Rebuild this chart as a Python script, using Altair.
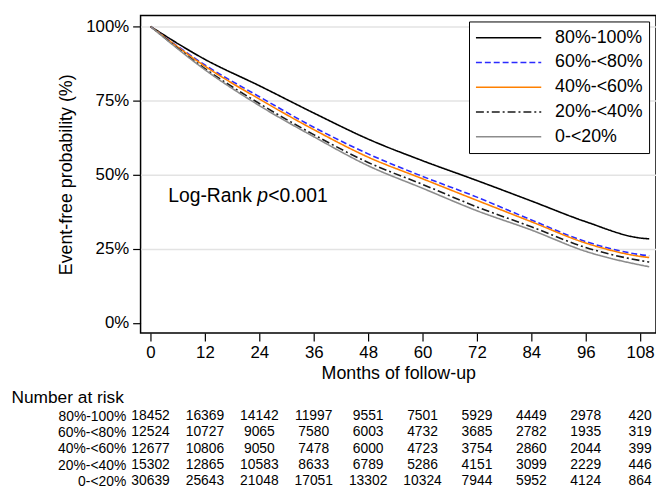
import altair as alt
import pandas as pd

# ---- data ----
groups = ["80%-100%", "60%-<80%", "40%-<60%", "20%-<40%", "0-<20%"]
colors = ["#000000", "#2b2bff", "#ff8000", "#1a1a1a", "#8c8c8c"]
dashes = [[1, 0], [6, 3], [1, 0], [8, 3, 2, 3], [1, 0]]

months = [0, 12, 24, 36, 48, 60, 72, 84, 96, 108, 110]
surv_80_100 = [100, 88.9, 80.0, 70.8, 62.0, 54.7, 48.0, 41.1, 34.1, 28.6, 28.3]
surv_60_80 = [100, 87.0, 76.3, 66.0, 57.0, 49.4, 42.4, 34.7, 27.4, 23.0, 22.6]
surv_40_60 = [100, 86.6, 75.5, 65.2, 55.9, 48.6, 41.3, 34.1, 26.9, 22.4, 22.0]
surv_20_40 = [100, 85.8, 74.0, 63.5, 54.1, 46.7, 39.1, 32.4, 25.4, 21.0, 20.5]
surv_0_20 = [100, 85.4, 73.3, 62.8, 53.0, 45.4, 37.8, 31.3, 24.1, 19.5, 18.9]

risk_months = [0, 12, 24, 36, 48, 60, 72, 84, 96, 108]
risk_80_100 = [18452, 16369, 14142, 11997, 9551, 7501, 5929, 4449, 2978, 420]
risk_60_80 = [12524, 10727, 9065, 7580, 6003, 4732, 3685, 2782, 1935, 319]
risk_40_60 = [12677, 10806, 9050, 7478, 6000, 4723, 3754, 2860, 2044, 399]
risk_20_40 = [15302, 12865, 10583, 8633, 6789, 5286, 4151, 3099, 2229, 446]
risk_0_20 = [30639, 25643, 21048, 17051, 13302, 10324, 7944, 5952, 4124, 864]

y_ticks = [0, 25, 50, 75, 100]
x_ticks = [0, 12, 24, 36, 48, 60, 72, 84, 96, 108]

FONT = "Liberation Sans"

surv_series = [surv_80_100, surv_60_80, surv_40_60, surv_20_40, surv_0_20]
risk_series = [risk_80_100, risk_60_80, risk_40_60, risk_20_40, risk_0_20]

curve_rows = []
for g, s in zip(groups, surv_series):
    for m, v in zip(months, s):
        curve_rows.append({"group": g, "month": m, "surv": v})
curves = pd.DataFrame(curve_rows)

risk_rows = []
for g, s in zip(groups, risk_series):
    for m, v in zip(risk_months, s):
        risk_rows.append({"group": g, "month": m, "n": str(v)})
risk = pd.DataFrame(risk_rows)

x_scale = alt.Scale(domain=[-2.2, 111.5], nice=False, zero=False)

lines = alt.Chart(curves).mark_line(strokeWidth=1.6, interpolate="monotone").encode(
    x=alt.X("month:Q", scale=x_scale,
            axis=alt.Axis(values=x_ticks, title="Months of follow-up", grid=False,
                          tickSize=8, tickColor="black", tickWidth=1.2,
                          labelFontSize=17, labelPadding=4, labelColor="black",
                          titleFontSize=18, titleFontWeight="normal", titlePadding=4,
                          titleColor="black", domain=False)),
    y=alt.Y("surv:Q", scale=alt.Scale(domain=[-3.5, 103.7], nice=False, zero=False),
            axis=alt.Axis(values=y_ticks, format=".0f", labelExpr="datum.value + '%'",
                          title="Event-free probability (%)",
                          grid=True, gridColor="#e3e3e3", gridWidth=1.5,
                          gridOpacity={"condition": {"test": "datum.value === 0", "value": 0}, "value": 1},
                          tickSize=8, tickColor="black", tickWidth=1.2,
                          labelFontSize=17, labelPadding=4, labelColor="black",
                          titleFontSize=18, titleFontWeight="normal", titlePadding=10,
                          titleColor="black", domain=False)),
    color=alt.Color("group:N", scale=alt.Scale(domain=groups, range=colors), sort=groups,
                    legend=alt.Legend(title=None, orient="none", legendX=332, legendY=6,
                                      padding=6, strokeColor="black", fillColor="white",
                                      symbolType="stroke", symbolSize=4356,
                                      symbolStrokeWidth=1.6, clipHeight=21, rowPadding=4,
                                      labelFontSize=18, labelOffset=13, labelColor="black")),
    strokeDash=alt.StrokeDash("group:N", scale=alt.Scale(domain=groups, range=dashes),
                              sort=groups, legend=alt.Legend(title=None)),
    order=alt.Order("order:Q"),
).transform_calculate(order="indexof(%s, datum.group)" % str(groups))

table = alt.Chart(risk).mark_text(fontSize=14, align="center", baseline="middle",
                                  color="black", font=FONT).encode(
    x=alt.X("month:Q", scale=x_scale),
    y=alt.Y("group:N",
            scale=alt.Scale(type="point", domain=groups, range=[405, 471], padding=0),
            axis=alt.Axis(orient="left", title="Number at risk", titleAngle=0,
                          titleAlign="left", titleBaseline="middle", titleX=-131, titleY=386,
                          titleFontSize=17.5, titleFontWeight="normal", titleColor="black",
                          labelFontSize=14, labelPadding=15, labelColor="black",
                          ticks=False, tickSize=0, domain=False, grid=False)),
    text="n:N",
)

ann1 = alt.Chart(pd.DataFrame({"t": ["Log-Rank "]})).mark_text(
    fontSize=19.5, align="left", baseline="middle", font=FONT, color="black"
).encode(x=alt.value(28), y=alt.value(182), text="t:N")
ann2 = alt.Chart(pd.DataFrame({"t": ["p"]})).mark_text(
    fontSize=19.5, align="left", baseline="middle", font=FONT, fontStyle="italic", color="black"
).encode(x=alt.value(118), y=alt.value(182), text="t:N")
ann3 = alt.Chart(pd.DataFrame({"t": ["<0.001"]})).mark_text(
    fontSize=19.5, align="left", baseline="middle", font=FONT, color="black"
).encode(x=alt.value(129), y=alt.value(182), text="t:N")

chart = alt.layer(lines, ann1, ann2, ann3, table).resolve_scale(
    y="independent", color="independent", strokeDash="independent"
).properties(
    width=521, height=321,
    autosize=alt.AutoSizeParams(type="none"),
    padding={"left": 134, "top": 5, "right": 0, "bottom": 158},
).configure(font=FONT).configure_view(stroke="black", strokeWidth=1.5)

chart.save("out.html", embed_options={"renderer": "svg", "actions": False})
